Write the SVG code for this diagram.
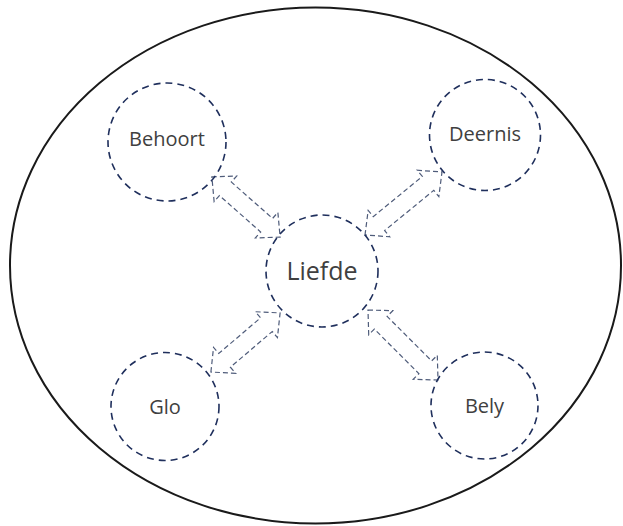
<svg xmlns="http://www.w3.org/2000/svg" width="623" height="526" viewBox="0 0 623 526">
<style>
.outer{fill:none;stroke:#1a1a1a;stroke-width:2}
.node{fill:none;stroke:#1f2f5c;stroke-width:1.6;stroke-dasharray:7 5}
.arr{fill:none;stroke:#4f5c7a;stroke-width:1.2;stroke-dasharray:5 3}
.lbl{font-family:"Open Sans","Noto Sans",sans-serif;font-size:20px;fill:#404040;text-anchor:middle}
.big{font-size:25px}
</style>
<rect width="623" height="526" fill="#ffffff"/>
<ellipse class="outer" cx="315.5" cy="265.5" rx="305.5" ry="258"/>
<g id="connectors">
<path class="arr" transform="translate(246,207) rotate(41.4)" d="M-45.5,0 L-27.5,-17 L-27.5,-9 L27.5,-9 L27.5,-17 L45.5,0 L27.5,17 L27.5,9 L-27.5,9 L-27.5,17 Z"/>
<path class="arr" transform="translate(403.5,203.5) rotate(-39.3)" d="M-49.75,0 L-31.75,-17 L-31.75,-9 L31.75,-9 L31.75,-17 L49.75,0 L31.75,17 L31.75,9 L-31.75,9 L-31.75,17 Z"/>
<path class="arr" transform="translate(245.5,342.5) rotate(-40.5)" d="M-45.5,0 L-27.5,-17 L-27.5,-9 L27.5,-9 L27.5,-17 L45.5,0 L27.5,17 L27.5,9 L-27.5,9 L-27.5,17 Z"/>
<path class="arr" transform="translate(403,345) rotate(45)" d="M-49.5,0 L-31.5,-17 L-31.5,-9 L31.5,-9 L31.5,-17 L49.5,0 L31.5,17 L31.5,9 L-31.5,9 L-31.5,17 Z"/>
</g>
<g id="behoort"><circle class="node" cx="167" cy="142" r="59"/><text class="lbl" x="167" y="146">Behoort</text></g>
<g id="deernis"><circle class="node" cx="485" cy="135" r="55.5"/><text class="lbl" x="485" y="141">Deernis</text></g>
<g id="liefde"><circle class="node" cx="322" cy="271" r="56"/><text class="lbl big" x="322" y="280">Liefde</text></g>
<g id="glo"><circle class="node" cx="165" cy="406.5" r="54"/><text class="lbl" x="165" y="414">Glo</text></g>
<g id="bely"><circle class="node" cx="484.5" cy="405.5" r="53.5"/><text class="lbl" x="484.5" y="413">Bely</text></g>
</svg>
